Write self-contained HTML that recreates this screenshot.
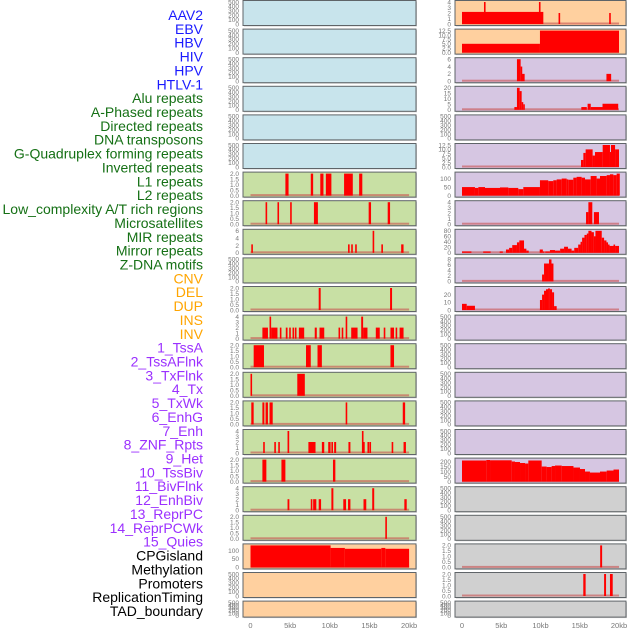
<!DOCTYPE html>
<html><head><meta charset="utf-8"><style>
html,body{margin:0;padding:0;background:#fff;width:630px;height:630px;overflow:hidden}
svg{display:block}
</style></head><body>
<svg id="chart" width="630" height="630" xmlns="http://www.w3.org/2000/svg" font-family="Liberation Sans, sans-serif"></svg>
<script>
// ---- data ----
const trackLabels = ["AAV2","EBV","HBV","HIV","HPV","HTLV-1","Alu repeats","A-Phased repeats","Directed repeats","DNA transposons","G-Quadruplex forming repeats","Inverted repeats","L1 repeats","L2 repeats","Low_complexity A/T rich regions","Microsatellites","MIR repeats","Mirror repeats","Z-DNA motifs","CNV","DEL","DUP","INS","INV","1_TssA","2_TssAFlnk","3_TxFlnk","4_Tx","5_TxWk","6_EnhG","7_Enh","8_ZNF_Rpts","9_Het","10_TssBiv","11_BivFlnk","12_EnhBiv","13_ReprPC","14_ReprPCWk","15_Quies","CPGisland","Methylation","Promoters","ReplicationTiming","TAD_boundary"];
const labelGroups = [6,13,5,15,5];
const xTickLabels = ["0","5kb","10kb","15kb","20kb"];
const xTickValues = [0,5,10,15,20];
const T500 = ["0","100","200","300","400","500"];
const T2 = ["0.0","0.5","1.0","1.5","2.0"];
const T4 = ["0","1","2","3","4"];

// left column panels (bars: [startKb, endKb, value])
const leftBg = ["blue","blue","blue","blue","blue","blue","green","green","green","green","green","green","green","green","green","green","green","green","green","orange","orange","orange"];
const leftYmax = [500,500,500,500,500,500,2,2,6,500,2,4,2,2,2,4,2,4,2,130,500,500];
const leftTicks = [T500,T500,T500,T500,T500,T500,T2,T2,["0","2","4","6"],T500,T2,T4,T2,T2,T2,T4,T2,T4,T2,["0","50","100"],T500,T500];
const leftBars = [
 [],[],[],[],[],[],
 [[4.4,4.8,2],[7.6,7.9,2],[8.8,9.2,2],[9.5,10.2,2],[11.8,12.9,2],[13.7,14.1,2]],
 [[1.9,2.1,2],[3.4,3.55,2],[5.0,5.2,2],[8.0,8.5,2],[14.9,15.2,2],[17.3,17.6,2]],
 [[0.1,0.3,2.3],[12.3,12.5,2.3],[12.7,12.9,2.3],[13.2,13.4,2.3],[15.4,15.6,6],[16.5,16.7,2.3],[19.0,19.3,2.3]],
 [],
 [[8.6,8.85,2],[17.6,17.85,2]],
 [[1.5,2.2,2],[2.4,2.6,4],[2.6,3.4,2],[3.7,3.9,2],[4.45,4.67,2],[4.88,5.08,2],[5.3,5.5,2],[5.6,5.76,2],[6.1,6.77,2],[8.1,8.36,2],[8.7,9.3,2],[11.1,11.3,2],[11.5,11.7,2],[12.0,12.2,4],[12.7,13.5,2],[13.96,14.2,4],[14.2,14.75,2],[15.8,16.3,2],[16.8,17.0,2],[17.65,18.1,2],[18.3,18.5,2],[18.8,19.3,2]],
 [[0.4,1.7,2],[7.0,7.6,2],[8.45,9.0,2],[17.65,18.1,2]],
 [[0.0,0.2,2],[5.9,6.85,2]],
 [[0.1,0.4,2],[1.5,1.75,2],[1.9,2.2,2],[2.4,2.8,2],[12.0,12.2,2],[19.2,19.5,2]],
 [[1.6,1.8,2],[3.0,3.2,2],[3.5,3.7,2],[4.67,4.88,4],[7.3,8.2,2],[9.0,9.3,2],[9.8,10.1,2],[10.2,10.4,2],[10.55,10.8,2],[12.35,12.6,2],[14.05,14.2,4],[14.2,14.4,2],[14.75,14.96,2],[15.0,15.1,2],[17.8,18.0,2],[19.3,19.6,2]],
 [[1.5,2.0,2],[3.9,4.4,2],[10.4,10.7,2]],
 [[4.67,4.9,2],[7.6,7.8,2],[7.9,8.3,2],[8.6,8.9,2],[10.2,10.45,4],[11.7,12.05,2],[12.3,12.6,2],[14.25,14.6,2],[15.35,15.6,4],[19.4,19.7,2]],
 [[17.0,17.2,2]],
 [[0,10.1,130],[10.1,11.9,115],[11.9,16.5,110],[16.5,17.0,115],[17.0,20,110]],
 [],[]
];

// right column panels
const rightBg = ["orange","orange","purple","purple","purple","purple","purple","purple","purple","purple","purple","purple","purple","purple","purple","purple","purple","gray","gray","gray","gray","gray"];
const rightYmax = [4,12.5,6,20,500,12.5,129,4,80,8,28.6,500,500,500,500,500,219,500,500,2,2,500];
const rightTicks = [T4,["0.0","2.5","5.0","7.5","10.0","12.5"],["0","2","4","6"],["0","5","10","15","20"],T500,["0.0","2.5","5.0","7.5","10.0","12.5"],["0","50","100"],T4,["0","20","40","60","80"],["0","2","4","6","8"],["0","10","20"],T500,T500,T500,T500,T500,["0","50","100","150","200"],T500,T500,T2,T2,T500];
const rightBars = [
 [[0,10.36,2.2],[2.8,3.0,4],[9.8,10.0,4],[12.3,12.5,2],[18.75,18.95,2]],
 [[0,9.93,5],[9.93,20,12.5]],
 [[7.0,7.47,6],[7.47,7.6,4],[7.6,7.98,2],[18.4,19.0,2]],
 [[6.67,7.0,2.5],[7.0,7.34,20],[7.34,7.6,17],[7.6,7.8,7],[7.8,7.98,5],[15.2,15.9,2.5],[16.0,16.4,5.5],[16.4,17.9,2.5],[17.9,19.9,5.5]],
 [],
 [[15.16,15.46,4],[15.46,15.75,8],[15.75,16.64,10],[16.64,16.94,6.5],[16.94,17.92,8.5],[17.92,18.85,12.5],[18.85,18.98,8.5],[18.98,19.5,12.5],[19.5,20.0,10]],
 [[0,1.65,50],[1.65,2.08,45],[2.08,2.93,50],[2.93,4.84,45],[4.84,5.9,48],[5.9,7.17,45],[7.17,7.81,38],[7.81,9.93,50],[9.93,10.99,90],[10.99,11.63,85],[11.63,12.06,90],[12.06,12.7,95],[12.7,13.33,100],[13.33,13.54,95],[13.54,14.18,93],[14.18,14.6,105],[14.6,15.24,110],[15.24,15.67,105],[15.67,16.39,95],[16.39,17.15,115],[17.15,17.58,100],[17.58,18.43,115],[18.43,18.85,120],[18.85,19.28,125],[19.28,19.7,120],[19.7,20.1,130]],
 [[15.8,16.1,2.2],[16.1,16.6,4],[16.8,17.45,2.2]],
 [[0,1.2,5],[2.7,3.65,5],[4.8,5.2,5],[5.6,6.0,12],[6.0,6.4,18],[6.4,7.0,28],[7.0,7.3,38],[7.3,7.9,45],[7.9,8.2,15],[8.2,8.5,8],[9.9,10.3,12],[10.3,10.5,5],[10.6,11.2,5],[11.2,11.85,10],[11.85,12.5,8],[12.5,13.0,15],[13.0,13.5,22],[13.5,13.96,15],[13.96,14.3,8],[14.3,14.8,18],[14.8,15.1,30],[15.1,15.3,40],[15.3,15.6,55],[15.6,15.9,65],[15.9,16.1,70],[16.1,16.5,80],[16.5,16.8,75],[16.8,17.0,60],[17.0,17.8,80],[17.8,18.1,55],[18.1,18.4,45],[18.4,18.6,38],[18.6,18.8,30],[18.8,19.3,25],[19.3,19.5,30],[19.5,20.0,25]],
 [[10.2,10.45,2.5],[10.45,11.08,6.5],[11.08,11.4,8],[11.4,11.65,6.5]],
 [[0,0.6,8],[0.6,1.65,5.5],[9.93,10.2,13],[10.2,10.45,20],[10.45,10.7,25],[10.7,10.96,27],[10.96,11.2,28],[11.2,11.47,27],[11.47,11.73,23],[11.73,12.06,5]],
 [],[],[],[],[],
 [[0,3.1,210],[3.1,3.57,215],[3.57,6.33,212],[6.33,6.75,200],[6.75,7.39,195],[7.39,8.03,185],[8.03,8.45,180],[8.45,10.15,210],[10.15,10.78,150],[10.78,11.42,145],[11.42,11.85,155],[11.85,12.7,160],[12.7,14.2,155],[14.2,15.03,140],[15.03,15.67,125],[15.67,16.3,100],[16.3,17.58,90],[17.58,18.43,100],[18.43,19.3,110],[19.3,20.0,120]],
 [],[],
 [[17.6,17.85,2]],
 [[15.45,15.75,2],[18.1,18.35,2],[18.85,19.2,2]],
 []
];

// ---- rendering ----
const NS="http://www.w3.org/2000/svg";
const svg=document.getElementById('chart');
const BG={blue:"#c8e4ec",green:"#c8e0a4",orange:"#ffd09f",purple:"#d6c6e2",gray:"#d0d0d0"};
const COLS=[{name:"left",px0:243,px1:416,x0:250.5,s:7.93,tickX:239},{name:"right",px0:455,px1:626,x0:462,s:7.85,tickX:451}];
function mk(tag,attrs){const e=document.createElementNS(NS,tag);for(const k in attrs)e.setAttribute(k,attrs[k]);return e;}
function rowTop(i){return 0.5+i*28.6;}
function rowH(i){return i===21?16:25;}

// labels
const groupColors=["#1a1aff","#157015","#ffa500","#9b30ff","#000000"];
let gi=0,gc=0;
trackLabels.forEach((t,i)=>{
  while(gc>=labelGroups[gi]){gi++;gc=0;}
  gc++;
  const tx=mk('text',{x:203,y:15+i*13.86+5,'text-anchor':'end','font-size':'14',fill:groupColors[gi]});
  tx.textContent=t;
  
  
  svg.appendChild(tx);
});

function drawCol(col,bgs,ymaxs,ticks,bars){
  for(let r=0;r<bgs.length;r++){
    const top=rowTop(r),h=rowH(r),bottom=top+h-1.5,ph=h-3;
    const g=mk('g',{});
    
    
    svg.appendChild(g);
    g.appendChild(mk('rect',{x:col.px0+1,y:top+1,width:col.px1-col.px0,height:h,fill:"#cfcfcf"}));
    const bg=mk('rect',{x:col.px0,y:top,width:col.px1-col.px0,height:h,fill:BG[bgs[r]],stroke:"#5f6468","stroke-width":1});
    
    
    g.appendChild(bg);
    const ymax=ymaxs[r];
    const yS=v=>bottom-Math.min(v,ymax)/ymax*ph;
    const tl=ticks[r];
    tl.forEach(lbl=>{
      const v=parseFloat(lbl);
      const t=mk('text',{x:col.tickX,y:yS(v)+2.3,'text-anchor':'end','font-size':'6.5',fill:"#777"});
      t.textContent=lbl;
      
      
      g.appendChild(t);
    });
    const b=bars[r];
    if(b.length){
      const base=mk('rect',{x:col.x0,y:bottom-1.5,width:20*col.s,height:2,fill:"rgba(200,80,80,0.6)"});
      
      
      g.appendChild(base);
    }
    b.forEach(d=>{
      const x1=col.x0+d[0]*col.s, x2=col.x0+Math.min(d[1],20.1)*col.s;
      const w=Math.max(x2-x1,1.6);
      const y=yS(d[2]);
      const rc=mk('rect',{x:x1,y:y,width:w,height:bottom-y,fill:"#ff0000"});
      
      
      g.appendChild(rc);
    });
  }
  xTickValues.forEach((v,i)=>{
    const t=mk('text',{x:col.x0+v*col.s,y:628,'text-anchor':'middle','font-size':'7.5',fill:"#777"});
    t.textContent=xTickLabels[i];
    
    
    svg.appendChild(t);
  });
}
drawCol(COLS[0],leftBg,leftYmax,leftTicks,leftBars);
drawCol(COLS[1],rightBg,rightYmax,rightTicks,rightBars);
</script>
</body></html>
